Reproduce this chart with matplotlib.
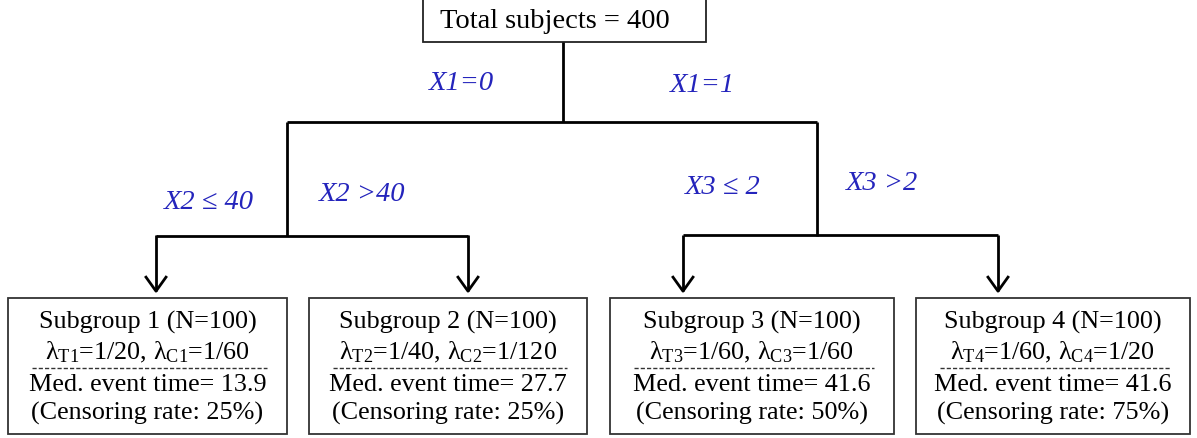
import numpy as np
import matplotlib
matplotlib.use("Agg")
import matplotlib.pyplot as plt
from matplotlib.patches import Rectangle

plt.rcParams["font.family"] = ["Liberation Serif", "DejaVu Serif"]
plt.rcParams["mathtext.fontset"] = "custom"
plt.rcParams["mathtext.rm"] = "Liberation Serif"
plt.rcParams["mathtext.it"] = "Liberation Serif:italic"

# data
total_n = 400
groups = [1, 2, 3, 4]
group_n = [100, 100, 100, 100]
lam_t = ["1/20", "1/40", "1/60", "1/60"]
lam_c = ["1/60", "1/120", "1/60", "1/20"]
med_time = [13.9, 27.7, 41.6, 41.6]
cens_rate = [25, 25, 50, 75]
split_top = ["X1=0", "X1=1"]
split_left = ["X2 \u2264 40", "X2 >40"]
split_right = ["X3 \u2264 2", "X3 >2"]

W, H = 1197, 439
fig = plt.figure(figsize=(W / 100, H / 100), dpi=100)
ax = fig.add_axes([0, 0, 1, 0.999])
ax.set_xlim(0, W)
ax.set_ylim(H, 0)
ax.axis("off")

LC = "black"
LW = 2.0
BLUE = "#2424bc"
FS = 18.8


def line(xs, ys):
    ax.plot(xs, ys, color=LC, lw=LW, solid_capstyle="butt")


def arrow(x, y0, y1):
    line([x, x], [y0, y1])
    ax.plot([x - 10, x, x + 10], [y1 - 14, y1, y1 - 14], color=LC, lw=LW)


# top box
ax.add_patch(Rectangle((423, -2), 283, 45, fill=False, ec="#222222", lw=1.3))
ax.text(555, 21, f"Total subjects = {total_n}", ha="center", va="center", fontsize=20.5)

# tree lines
line([563, 563], [43, 123])
line([287, 817], [123, 123])
line([287, 287], [123, 237])
line([817, 817], [123, 237])
line([156, 468], [237, 237])
line([683, 998], [236, 236])
for x in [156, 468, 683, 998]:
    arrow(x, 236, 292)

# split labels
lab = dict(ha="center", va="center", fontsize=20.5, color=BLUE, style="italic")
ax.text(462, 83, split_top[0], **lab)
ax.text(703, 85, split_top[1], **lab)
ax.text(209, 202, split_left[0], **lab)
ax.text(362, 194, split_left[1], **lab)
ax.text(723, 187, split_right[0], **lab)
ax.text(882, 183, split_right[1], **lab)

# subgroup boxes
boxes = [(8, 287), (309, 587), (610, 894), (916, 1190)]
for (x0, x1), g, n, lt, lc, m, c in zip(boxes, groups, group_n, lam_t, lam_c,
                                          med_time, cens_rate):
    ax.add_patch(Rectangle((x0, 299), x1 - x0, 136, fill=False, ec="#333333", lw=1.3))
    xc = (x0 + x1) / 2
    ax.text(xc, 322, f"Subgroup {g} (N={n})", ha="center", va="center", fontsize=FS)
    ax.text(xc, 352, f"\u03bb$_{{\\mathrm{{T{g}}}}}$={lt}, \u03bb$_{{\\mathrm{{C{g}}}}}$={lc}",
            ha="center", va="center", fontsize=FS)
    ax.plot([x0 + 24, x1 - 20], [369, 369], color="#333333", lw=1.0,
            ls=(0, (3, 1.5)))
    ax.text(xc, 385, f"Med. event time= {m}", ha="center", va="center", fontsize=FS)
    ax.text(xc, 413, f"(Censoring rate: {c}%)", ha="center", va="center", fontsize=FS)

fig.savefig("out.png", dpi=100)
